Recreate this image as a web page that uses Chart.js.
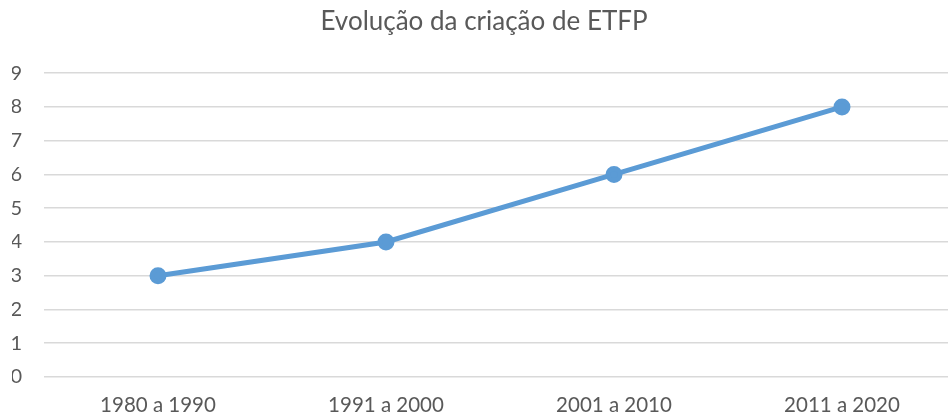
<!DOCTYPE html>
<html>
<head>
<meta charset="utf-8">
<script src="https://cdn.jsdelivr.net/npm/chart.js@4"></script>
<style>
    html, body { margin: 0; padding: 0; background: #fff; overflow: hidden; }
    canvas { display: block; }
</style>
</head>
<body>
<canvas id="myChart" width="960" height="418"></canvas>
<script>
// dados do grafico
const categorias = ['1980 a 1990', '1991 a 2000', '2001 a 2010', '2011 a 2020'];
const valores = [3, 4, 6, 8];
const yTicks = [0, 1, 2, 3, 4, 5, 6, 7, 8, 9];

window.onload = function () {
    var ctx = document.getElementById('myChart');
    var myChart = new Chart(ctx, {
        type: 'line',
        data: {
            labels: categorias,
            datasets: [{
                label: 'ETFP',
                data: valores,
                borderColor: '#5B9BD5',
                backgroundColor: '#5B9BD5',
                borderWidth: 5,
                pointRadius: 6,
                pointHoverRadius: 6,
                tension: 0,
            }]
        },
        options: {
            responsive: false,
            animation: false,
            layout: {
                autoPadding: false,
                padding: { left: 12, right: 4, top: 6, bottom: 0 }
            },
            plugins: {
                legend: { display: false },
                tooltip: { enabled: false },
                title: {
                    display: true,
                    text: 'Evolução da criação de ETFP',
                    color: '#595959',
                    font: { family: 'Lato', size: 26, weight: 'normal' },
                    padding: { top: 0, bottom: 36 }
                }
            },
            scales: {
                x: {
                    offset: true,
                    grid: { display: false, drawTicks: false },
                    border: { display: false },
                    afterFit: function (axis) { axis.height = 41; },
                    ticks: {
                        color: '#595959',
                        font: { family: 'Lato', size: 20.5 },
                        padding: 16
                    }
                },
                y: {
                    min: 0,
                    max: 9,
                    afterBuildTicks: function (axis) {
                        axis.ticks = yTicks.map(v => ({ value: v }));
                    },
                    afterFit: function (axis) { axis.width = 32; },
                    grid: {
                        color: '#D9D9D9',
                        lineWidth: 1.5,
                        drawTicks: false
                    },
                    border: { display: false },
                    ticks: {
                        color: '#595959',
                        font: { family: 'Lato', size: 20 },
                        padding: 22
                    }
                }
            }
        }
    })
}
</script>
</body>
</html>
